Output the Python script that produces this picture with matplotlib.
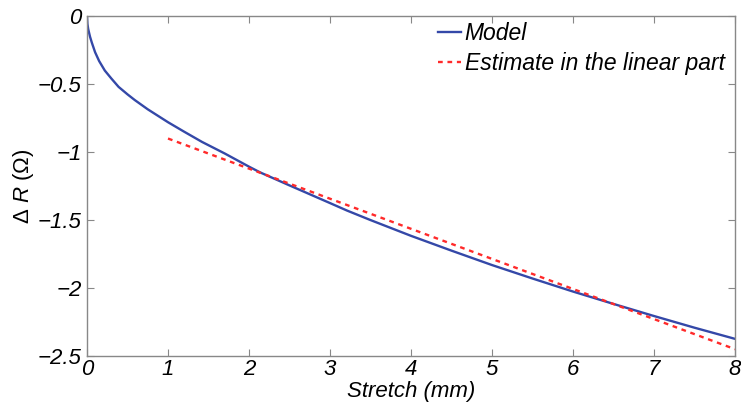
import matplotlib
matplotlib.use("Agg")
import matplotlib.pyplot as plt

plt.rcParams['font.family'] = ['Liberation Sans', 'DejaVu Sans']
plt.rcParams['mathtext.fontset'] = 'custom'
plt.rcParams['mathtext.it'] = 'Liberation Sans:italic'
plt.rcParams['mathtext.rm'] = 'Liberation Sans'

# Model curve
stretch = [0, 0.005, 0.015, 0.037, 0.06, 0.1, 0.15, 0.22, 0.3, 0.39, 0.5, 0.59, 0.75, 0.9,
           1.0, 1.2, 1.42, 1.7, 2.0, 2.14, 2.5, 3.0, 3.21, 3.5, 4.0, 4.5, 5.0, 5.5, 6.0,
           6.5, 7.0, 7.5, 8.0]
delta_r = [0, -0.055, -0.095, -0.15, -0.195, -0.265, -0.33, -0.40, -0.458, -0.52, -0.575,
           -0.617, -0.685, -0.742, -0.78, -0.85, -0.925, -1.01, -1.107, -1.15, -1.245,
           -1.375, -1.43, -1.50, -1.616, -1.725, -1.831, -1.93, -2.026, -2.117, -2.206,
           -2.292, -2.374]

# Linear estimate
est_x = [1, 8]
est_y = [-0.90, -2.45]

xticks = [0, 1, 2, 3, 4, 5, 6, 7, 8]
yticks = [0, -0.5, -1, -1.5, -2, -2.5]
ytick_labels = ['0', '\u22120.5', '\u22121', '\u22121.5', '\u22122', '\u22122.5']

fig = plt.figure(figsize=(7.41, 4.05), dpi=100)
ax = fig.add_axes([0.1174, 0.121, 0.8746, 0.839])

ax.plot(stretch, delta_r, color='#3448a8', lw=1.7, label='Model')
ax.plot(est_x, est_y, color='#ff2a2a', lw=1.7, ls=(0, (2, 2)), label='Estimate in the linear part')

ax.set_xlim(0, 8)
ax.set_ylim(-2.5, 0)
ax.set_xticks(xticks)
ax.set_xticklabels([str(t) for t in xticks], fontstyle='italic', fontsize=16)
ax.set_yticks(yticks)
ax.set_yticklabels(ytick_labels, fontstyle='italic', fontsize=16)

for s in ax.spines.values():
    s.set_color('#888888')
    s.set_linewidth(1.0)
ax.tick_params(direction='in', length=5, color='#888888', top=True, right=True)
ax.tick_params(axis='x', pad=2)
ax.tick_params(axis='y', pad=4)

ax.set_xlabel('Stretch (mm)', fontstyle='italic', fontsize=16, labelpad=1)
ax.set_ylabel('\u0394 $R$ (\u03a9)', fontsize=16, labelpad=1)

leg = ax.legend(loc='upper right', frameon=False, fontsize=16.5, handlelength=1.0,
                handletextpad=0.15, borderaxespad=0.05, labelspacing=0.3,
                bbox_to_anchor=(1.0, 1.013))
for t in leg.get_texts():
    t.set_fontstyle('italic')

fig.savefig('out.png', dpi=100)
